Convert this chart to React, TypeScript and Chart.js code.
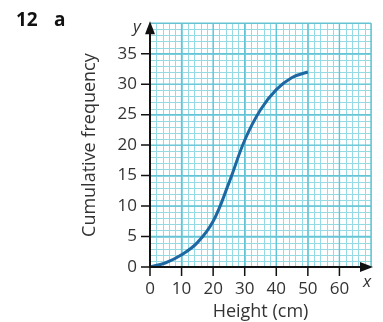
import React, { useEffect, useRef } from 'react';
import { Chart, registerables } from 'chart.js';
Chart.register(...registerables);

const heights = [0, 5, 10, 15, 20, 25, 30, 35, 40, 45, 50];
const cumFreq = [0, 0.7, 2, 4, 7.5, 13.8, 20.8, 25.8, 29.1, 31.1, 32];
const xTickLabels = [0, 10, 20, 30, 40, 50, 60];
const yTickLabels = [0, 5, 10, 15, 20, 25, 30, 35];
const xMax = 70;
const yMax = 40;
const xMinorStep = 2;
const yMinorStep = 1;
const xMajorStep = 10;
const yMajorStep = 5;

const FONT = '"Open Sans", "Noto Sans", sans-serif';
const TEXT = '#333333';

const paperPlugin = {
  id: 'paper',
  beforeDatasetsDraw(chart: any) {
    const { ctx, chartArea: a, scales } = chart;
    const sx = scales.x, sy = scales.y;
    ctx.save();
    // minor grid
    ctx.strokeStyle = 'rgb(150,218,228)';
    ctx.lineWidth = 1;
    ctx.beginPath();
    for (let v = 0; v <= xMax; v += xMinorStep) {
      const px = Math.round(sx.getPixelForValue(v)) + 0.5;
      ctx.moveTo(px, a.top); ctx.lineTo(px, a.bottom);
    }
    for (let v = 0; v <= yMax; v += yMinorStep) {
      const py = Math.round(sy.getPixelForValue(v)) + 0.5;
      ctx.moveTo(a.left, py); ctx.lineTo(a.right, py);
    }
    ctx.stroke();
    // major grid
    ctx.strokeStyle = 'rgb(100,195,212)';
    ctx.lineWidth = 1.4;
    ctx.beginPath();
    for (let v = 0; v <= xMax; v += xMajorStep) {
      const px = sx.getPixelForValue(v);
      ctx.moveTo(px, a.top); ctx.lineTo(px, a.bottom);
    }
    for (let v = 0; v <= yMax; v += yMajorStep) {
      const py = sy.getPixelForValue(v);
      ctx.moveTo(a.left, py); ctx.lineTo(a.right, py);
    }
    ctx.stroke();
    ctx.restore();
  },
  afterDraw(chart: any) {
    const { ctx, chartArea: a, scales } = chart;
    const sx = scales.x, sy = scales.y;
    const x0 = sx.getPixelForValue(0);
    const y0 = sy.getPixelForValue(0);
    ctx.save();
    ctx.strokeStyle = '#111';
    ctx.fillStyle = '#111';
    // axes
    ctx.lineWidth = 2;
    ctx.beginPath();
    ctx.moveTo(x0, y0 + 1); ctx.lineTo(x0, a.top + 8);
    ctx.moveTo(x0 - 1, y0); ctx.lineTo(a.right - 8, y0);
    ctx.stroke();
    // arrows
    ctx.beginPath();
    ctx.moveTo(x0, a.top - 2); ctx.lineTo(x0 - 5, a.top + 11); ctx.lineTo(x0 + 5, a.top + 11); ctx.closePath();
    ctx.fill();
    ctx.beginPath();
    ctx.moveTo(a.right + 2, y0); ctx.lineTo(a.right - 11, y0 - 5); ctx.lineTo(a.right - 11, y0 + 5); ctx.closePath();
    ctx.fill();
    // tick marks
    ctx.lineWidth = 1.5;
    ctx.beginPath();
    for (const v of xTickLabels) {
      const px = sx.getPixelForValue(v);
      ctx.moveTo(px, y0); ctx.lineTo(px, y0 + 9);
    }
    for (const v of yTickLabels) {
      const py = sy.getPixelForValue(v);
      ctx.moveTo(x0 - 9, py); ctx.lineTo(x0, py);
    }
    ctx.stroke();
    // axis letters
    ctx.fillStyle = TEXT;
    ctx.font = `italic 17px ${FONT}`;
    ctx.textAlign = 'center';
    ctx.textBaseline = 'middle';
    ctx.fillText('y', x0 - 13, a.top + 4);
    ctx.fillText('x', a.right - 4, y0 + 15);
    // axis titles
    ctx.font = `18px ${FONT}`;
    ctx.fillText('Height (cm)', (a.left + a.right) / 2, 312);
    ctx.save();
    ctx.translate(90, (a.top + a.bottom) / 2);
    ctx.rotate(-Math.PI / 2);
    ctx.fillText('Cumulative frequency', 0, 0);
    ctx.restore();
    // question label
    ctx.fillStyle = '#111';
    ctx.font = `bold 19px ${FONT}`;
    ctx.textAlign = 'left';
    ctx.textBaseline = 'alphabetic';
    ctx.fillText('12', 16, 26);
    ctx.fillText('a', 54, 26);
    ctx.restore();
  },
};

export default function App() {
  const ref = useRef<HTMLCanvasElement>(null);
  useEffect(() => {
    document.body.style.margin = '0';
    const canvas = ref.current!;
    const chart = new Chart(canvas, {
      type: 'line',
      data: {
        datasets: [
          {
            data: heights.map((h, i) => ({ x: h, y: cumFreq[i] })),
            borderColor: '#1d67a3',
            borderWidth: 3,
            pointRadius: 0,
            tension: 0.4,
            fill: false,
          },
        ],
      },
      options: {
        animation: false,
        responsive: false,
        layout: { padding: { top: 14, right: 11, left: 0, bottom: 0 } },
        plugins: { legend: { display: false }, tooltip: { enabled: false } },
        scales: {
          x: {
            type: 'linear',
            min: 0,
            max: xMax,
            afterFit: (s: any) => { s.height = 55; },
            grid: { display: false, drawTicks: false },
            border: { display: false },
            ticks: {
              stepSize: xMajorStep,
              padding: 12,
              maxRotation: 0,
              autoSkip: false,
              color: TEXT,
              font: { family: FONT, size: 17 },
              callback: (v: any) => (xTickLabels.includes(Number(v)) ? String(v) : ''),
            },
          },
          y: {
            type: 'linear',
            min: 0,
            max: yMax,
            afterFit: (s: any) => { s.width = 150; },
            grid: { display: false, drawTicks: false },
            border: { display: false },
            ticks: {
              stepSize: yMajorStep,
              padding: 13,
              autoSkip: false,
              color: TEXT,
              font: { family: FONT, size: 17 },
              callback: (v: any) => (yTickLabels.includes(Number(v)) ? String(v) : ''),
            },
          },
        },
      },
      plugins: [paperPlugin],
    } as any);
    return () => chart.destroy();
  }, []);
  return <canvas ref={ref} width={383} height={322} style={{ display: 'block' }} />;
}
